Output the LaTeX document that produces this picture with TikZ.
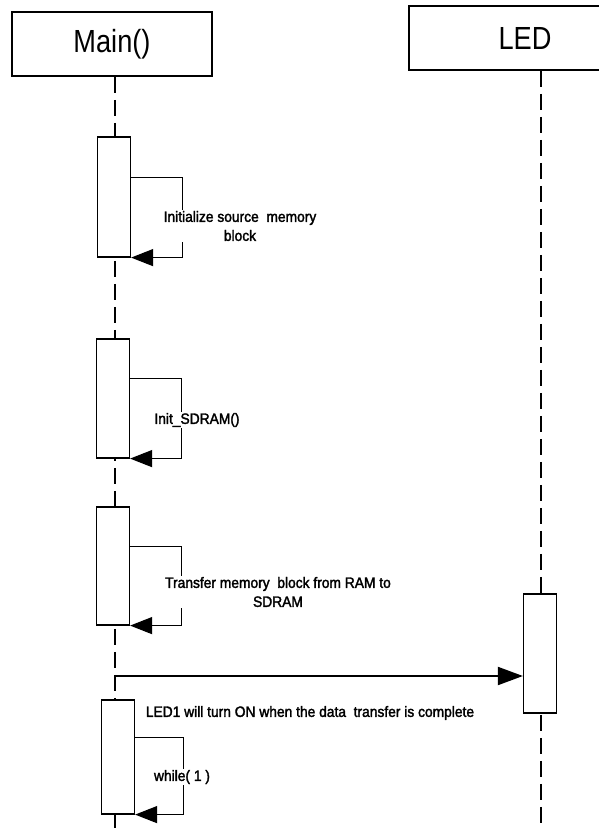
\documentclass[tikz,border=0pt]{standalone}
\usepackage{fontspec}
\setmainfont{Liberation Sans}[FakeStretch=0.85]
\newfontfamily\lblfont{Liberation Sans}[FakeStretch=0.92,FakeBold=2]
\usetikzlibrary{arrows.meta,positioning}
\tikzset{
  head/.style={draw,line width=1.5pt,minimum width=200pt,minimum height=64pt,font=\fontsize{32}{36}\selectfont},
  act/.style={draw,fill=white,line width=1.2pt,minimum width=33pt,inner sep=0pt},
  life/.style={line width=2pt,dash pattern=on 16pt off 7pt},
  selfloop/.style={line width=1.2pt,-{Triangle[length=22pt,width=17pt]}},
  msg/.style={line width=2pt,-{Triangle[length=25pt,width=18pt]}},
  lbl/.style={fill=white,inner sep=1pt,align=center,font=\lblfont\fontsize{15}{19}\selectfont}
}
\begin{document}
\begin{tikzpicture}[x=1pt,y=-1pt]
\clip (0,0) rectangle (599,828);
\node[head] (main) at (112,44) {Main()};%ヘッダ
\node[head,minimum width=232pt] (led) at (525,38) {LED};
\coordinate (mainend) at (115,828);
\coordinate (ledend) at (541,828);
\draw[life] (main.south -| mainend) -- (mainend);%ライフライン
\draw[life] (led.south -| ledend) -- (ledend);
\node[act,minimum height=120pt] (act1) at (114,197) {};
\node[act,minimum height=119pt] (act2) at (113,398.5) {};
\node[act,minimum height=118pt] (act3) at (113,566) {};
\node[act,minimum height=114pt] (act4) at (118,757) {};
\node[act,minimum height=119pt] (ledact) at (540,653.5) {};
\draw[selfloop] ([yshift=-41pt]act1.north east) -| ([xshift=51pt]act1.south east) -- (act1.south east);%自己呼び出し
\draw[selfloop] ([yshift=-40pt]act2.north east) -| ([xshift=51pt]act2.south east) -- (act2.south east);
\draw[selfloop] ([yshift=-40pt]act3.north east) -| ([xshift=51pt]act3.south east) -- (act3.south east);
\draw[selfloop] ([yshift=-38pt]act4.north east) -| ([xshift=48pt]act4.south east) -- (act4.south east);
\coordinate (send) at (115,676);
\draw[msg] (send) -- (send -| ledact.west);%LEDへ
\node[lbl] (init) at (240,226) {Initialize source~ memory\\block};
\node[lbl] (sdram) at (197,420) {Init\_SDRAM()};
\node[lbl] (xfer) at (278,592) {Transfer memory~ block from RAM to\\SDRAM};
\node[lbl] (note) at (310,713) {LED1 will turn ON when the data~ transfer is complete};
\node[lbl] (loop) at (182,777) {while( 1 )};
\end{tikzpicture}
\end{document}
